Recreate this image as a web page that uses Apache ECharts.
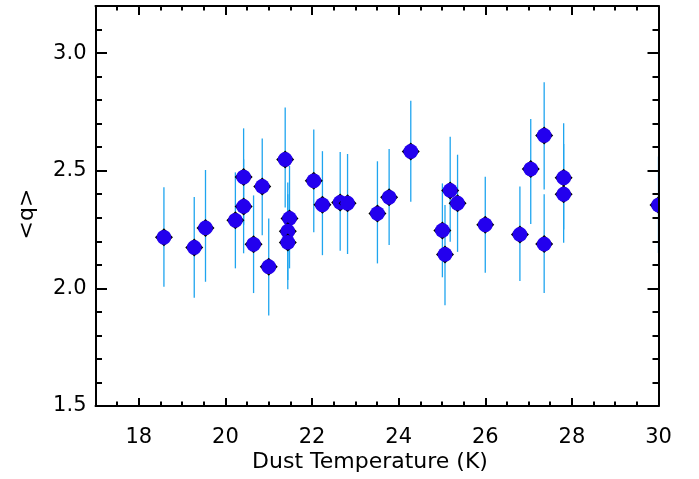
<!DOCTYPE html>
<html>
<head>
<meta charset="utf-8">
<script src="https://cdn.jsdelivr.net/npm/echarts@6/dist/echarts.min.js"></script>
<style>html,body{margin:0;padding:0;background:#fff;}#c{width:699px;height:479px;}</style>
</head>
<body>
<div id="c"></div>
<script>
// Data
var temps  = [18.58, 19.28, 19.54, 20.23, 20.42, 20.42, 20.65, 20.85, 21.00, 21.38, 21.48, 21.44, 21.44, 22.04, 22.24, 22.65, 22.82, 23.51, 23.78, 24.28, 25.01, 25.07, 25.19, 25.36, 26.00, 26.80, 27.05, 27.36, 27.36, 27.81, 27.81, 30.00];
var qMean  = [2.217, 2.174, 2.257, 2.289, 2.473, 2.348, 2.187, 2.433, 2.092, 2.548, 2.297, 2.243, 2.195, 2.457, 2.355, 2.365, 2.362, 2.318, 2.387, 2.582, 2.246, 2.144, 2.416, 2.362, 2.270, 2.229, 2.507, 2.650, 2.188, 2.470, 2.400, 2.354];
var qLow   = [2.007, 1.960, 2.028, 2.085, 2.270, 2.149, 1.980, 2.226, 1.885, 2.344, 2.085, 2.035, 1.996, 2.238, 2.141, 2.160, 2.146, 2.106, 2.184, 2.368, 2.047, 1.928, 2.198, 2.155, 2.066, 2.031, 2.273, 2.420, 1.980, 2.250, 2.194, 2.150];
var qHigh  = [2.430, 2.388, 2.503, 2.493, 2.680, 2.548, 2.395, 2.637, 2.297, 2.769, 2.520, 2.450, 2.400, 2.675, 2.583, 2.579, 2.571, 2.540, 2.592, 2.797, 2.446, 2.354, 2.644, 2.568, 2.474, 2.433, 2.720, 2.876, 2.400, 2.702, 2.613, 2.560];
var xMajorTicks = [18, 20, 22, 24, 26, 28, 30];
var xMinorTicks = [17, 17.5, 18.5, 19, 19.5, 20.5, 21, 21.5, 22.5, 23, 23.5, 24.5, 25, 25.5, 26.5, 27, 27.5, 28.5, 29, 29.5];
var yMajorTicks = [1.5, 2.0, 2.5, 3.0];
var yMinorTicks = [1.6, 1.7, 1.8, 1.9, 2.1, 2.2, 2.3, 2.4, 2.6, 2.7, 2.8, 2.9, 3.1];
var xTitle = 'Dust Temperature (K)';
var yTitle = '<q>';

var rows = temps.map(function (t, i) { return [t, qMean[i], qLow[i], qHigh[i]]; });

var FONT = 'DejaVu Sans';
var chart = echarts.init(document.getElementById('c'), null, {renderer: 'canvas'});

function xAxisDef(pos, ticks, len, showLine, showLabel) {
  return {
    type: 'value', position: pos, min: 17, max: 30, gridIndex: 0, z: 10,
    axisLine: {show: showLine, onZero: false, lineStyle: {color: '#000', width: 2}},
    axisTick: {show: true, inside: true, length: len, customValues: ticks, lineStyle: {color: '#000', width: 2}},
    axisLabel: {show: showLabel, customValues: ticks, margin: 21, color: '#000', fontSize: 21, fontFamily: FONT,
      formatter: function (v) { return String(Math.round(v)); }},
    splitLine: {show: false}
  };
}
function yAxisDef(pos, ticks, len, showLine, showLabel) {
  return {
    type: 'value', position: pos, min: 1.5, max: 3.2, gridIndex: 0, z: 10,
    axisLine: {show: showLine, onZero: false, lineStyle: {color: '#000', width: 2}},
    axisTick: {show: true, inside: true, length: len, customValues: ticks, lineStyle: {color: '#000', width: 2}},
    axisLabel: {show: showLabel, customValues: ticks, margin: 9, color: '#000', fontSize: 21, fontFamily: FONT,
      formatter: function (v) { return v.toFixed(1); }},
    splitLine: {show: false}
  };
}

var option = {
  backgroundColor: '#fff',
  animation: false,
  grid: {left: 95.5, right: 40.5, top: 6, bottom: 73, containLabel: false, outerBoundsMode: 'none'},
  xAxis: [
    xAxisDef('bottom', xMajorTicks, 8, true, true),
    xAxisDef('bottom', xMinorTicks, 4.5, false, false),
    xAxisDef('top', xMajorTicks, 9, true, false),
    xAxisDef('top', xMinorTicks, 4.5, false, false)
  ],
  yAxis: [
    yAxisDef('left', yMajorTicks, 11.5, true, true),
    yAxisDef('left', yMinorTicks, 6.5, false, false),
    yAxisDef('right', yMajorTicks, 11, true, false),
    yAxisDef('right', yMinorTicks, 6, false, false)
  ],
  graphic: [
    {type: 'text', x: 370, y: 462, style: {text: xTitle, fontSize: 22, fontFamily: FONT, fill: '#000', align: 'center', verticalAlign: 'middle'}, z: 10},
    {type: 'text', x: 27, y: 214, rotation: Math.PI / 2, style: {text: yTitle, fontSize: 22, fontFamily: FONT, fill: '#000', align: 'center', verticalAlign: 'middle'}, z: 10}
  ],
  series: [
    {
      type: 'custom', xAxisIndex: 0, yAxisIndex: 0, clip: true, z: 2,
      data: rows,
      encode: {x: 0, y: 1},
      renderItem: function (params, api) {
        var top = api.coord([api.value(0), api.value(3)]);
        var bot = api.coord([api.value(0), api.value(2)]);
        return {type: 'line', shape: {x1: top[0], y1: top[1], x2: bot[0], y2: bot[1]},
          style: {stroke: '#1fa5ef', lineWidth: 1.3}};
      }
    },
    {
      type: 'custom', xAxisIndex: 0, yAxisIndex: 0, clip: true, z: 3,
      data: rows,
      encode: {x: 0, y: 1},
      renderItem: function (params, api) {
        var p = api.coord([api.value(0), api.value(1)]);
        var d = 9;
        return {type: 'group', children: [
          {type: 'polygon', shape: {points: [[p[0] - d, p[1]], [p[0], p[1] - d], [p[0] + d, p[1]], [p[0], p[1] + d]]}, style: {fill: '#000'}},
          {type: 'circle', shape: {cx: p[0], cy: p[1], r: 7.4}, style: {fill: '#2300ee'}}
        ]};
      }
    }
  ]
};
chart.setOption(option);
</script>
</body>
</html>
